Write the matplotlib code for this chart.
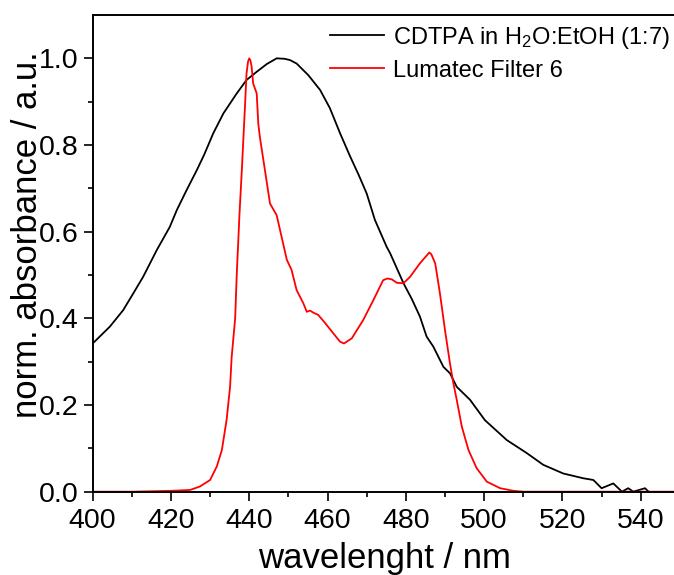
import numpy as np
import matplotlib
matplotlib.use("Agg")
import matplotlib.pyplot as plt

plt.rcParams['font.family'] = ['Liberation Sans', 'DejaVu Sans']
plt.rcParams['mathtext.fontset'] = 'custom'
plt.rcParams['mathtext.rm'] = 'Liberation Sans'
plt.rcParams['mathtext.it'] = 'Liberation Sans:italic'

# CDTPA in H2O:EtOH (1:7)
cdtpa_wl = [400.0, 404.4, 407.8, 410.4, 412.9, 416.4, 419.7, 421.5, 424.0, 426.6,
            428.5, 430.8, 433.4, 436.8, 439.3, 441.9, 444.5, 447.0, 449.0, 450.4,
            452.1, 455.1, 458.1, 460.6, 463.2, 465.7, 468.0, 470.0, 472.1, 475.1,
            476.0, 479.4, 481.5, 483.6, 485.3, 487.0, 489.6, 491.3, 493.0, 496.4,
            500.2, 505.8, 510.9, 515.1, 520.2, 525.3, 527.9, 530.0, 533.0, 535.2,
            536.8, 538.1, 541.1, 542.0]
cdtpa_abs = [0.342, 0.381, 0.419, 0.458, 0.496, 0.558, 0.611, 0.650, 0.696, 0.742,
             0.778, 0.827, 0.873, 0.919, 0.950, 0.969, 0.987, 1.000, 0.999, 0.996,
             0.988, 0.961, 0.927, 0.885, 0.827, 0.775, 0.730, 0.688, 0.627, 0.565,
             0.550, 0.481, 0.445, 0.404, 0.358, 0.335, 0.288, 0.273, 0.242, 0.212,
             0.165, 0.119, 0.089, 0.062, 0.042, 0.031, 0.027, 0.008, 0.019, 0.000,
             0.008, 0.000, 0.008, 0.000]

# Lumatec Filter 6
filter_wl = [400.0, 410.0, 420.0, 424.9, 427.4, 430.0, 431.7, 433.0, 434.2, 435.1,
             435.5, 436.4, 436.8, 437.5, 438.1, 438.9, 439.3, 439.7, 440.0, 440.3,
             440.6, 441.0, 441.9, 442.3, 442.7, 444.0, 445.3, 447.0, 449.6, 450.8,
             452.1, 453.8, 454.7, 455.5, 456.4, 457.6, 459.4, 461.5, 463.2, 464.2,
             466.2, 469.1, 471.7, 474.2, 475.3, 476.4, 477.7, 479.4, 481.1, 483.6,
             486.0, 486.5, 487.5, 488.7, 490.0, 491.2, 492.1, 493.0, 494.3, 496.0,
             498.1, 500.7, 504.1, 507.5, 510.0, 548.5]
filter_abs = [0.000, 0.000, 0.002, 0.004, 0.012, 0.027, 0.058, 0.096, 0.165, 0.242,
              0.310, 0.400, 0.500, 0.640, 0.742, 0.888, 0.965, 0.993, 1.000, 0.995,
              0.981, 0.942, 0.919, 0.850, 0.819, 0.742, 0.665, 0.638, 0.535, 0.512,
              0.465, 0.435, 0.415, 0.418, 0.413, 0.408, 0.389, 0.365, 0.346, 0.342,
              0.354, 0.396, 0.442, 0.488, 0.492, 0.490, 0.482, 0.481, 0.496, 0.527,
              0.552, 0.548, 0.527, 0.458, 0.373, 0.300, 0.252, 0.212, 0.150, 0.096,
              0.054, 0.023, 0.008, 0.002, 0.000, 0.000]

fig = plt.figure(figsize=(6.74, 5.75), dpi=100)
ax = fig.add_axes([0.1375, 0.1449, 0.8625, 0.829])

ax.plot(cdtpa_wl, cdtpa_abs, color='black', lw=1.3, label=r'CDTPA in H$_2$O:EtOH (1:7)')
ax.plot(filter_wl, filter_abs, color='red', lw=1.3, label='Lumatec Filter 6')

ax.set_xlim(400, 548.5)
ax.set_ylim(0, 1.1)
ax.set_xticks(np.arange(400, 541, 20))
ax.set_xticks(np.arange(410, 548, 10), minor=True)
ax.set_yticks([0.0, 0.2, 0.4, 0.6, 0.8, 1.0])
ax.set_yticks([0.1, 0.3, 0.5, 0.7, 0.9], minor=True)
ax.yaxis.set_major_formatter(matplotlib.ticker.FormatStrFormatter('%.1f'))

ax.spines['right'].set_visible(False)
for s in ['left', 'bottom', 'top']:
    ax.spines[s].set_linewidth(1.4)
ax.tick_params(axis='x', which='major', pad=5)
ax.tick_params(which='major', direction='out', length=6.5, width=1.2, labelsize=20.5)
ax.tick_params(which='minor', direction='out', length=3.5, width=1.2)
ax.tick_params(top=False, right=False)

ax.set_xlabel('wavelenght / nm', fontsize=25)
ax.set_ylabel('norm. absorbance / a.u.', fontsize=25)
ax.xaxis.set_label_coords(0.571, 0.058, transform=fig.transFigure)
ax.yaxis.set_label_coords(0.0653, 0.591, transform=fig.transFigure)

ax.legend(loc='upper left', bbox_to_anchor=(0.4896, 0.957), bbox_transform=fig.transFigure,
          frameon=False, fontsize=17, borderpad=0, borderaxespad=0,
          handlelength=2.3, handletextpad=0.35, labelspacing=0.38)

fig.savefig('out.png', dpi=100)
